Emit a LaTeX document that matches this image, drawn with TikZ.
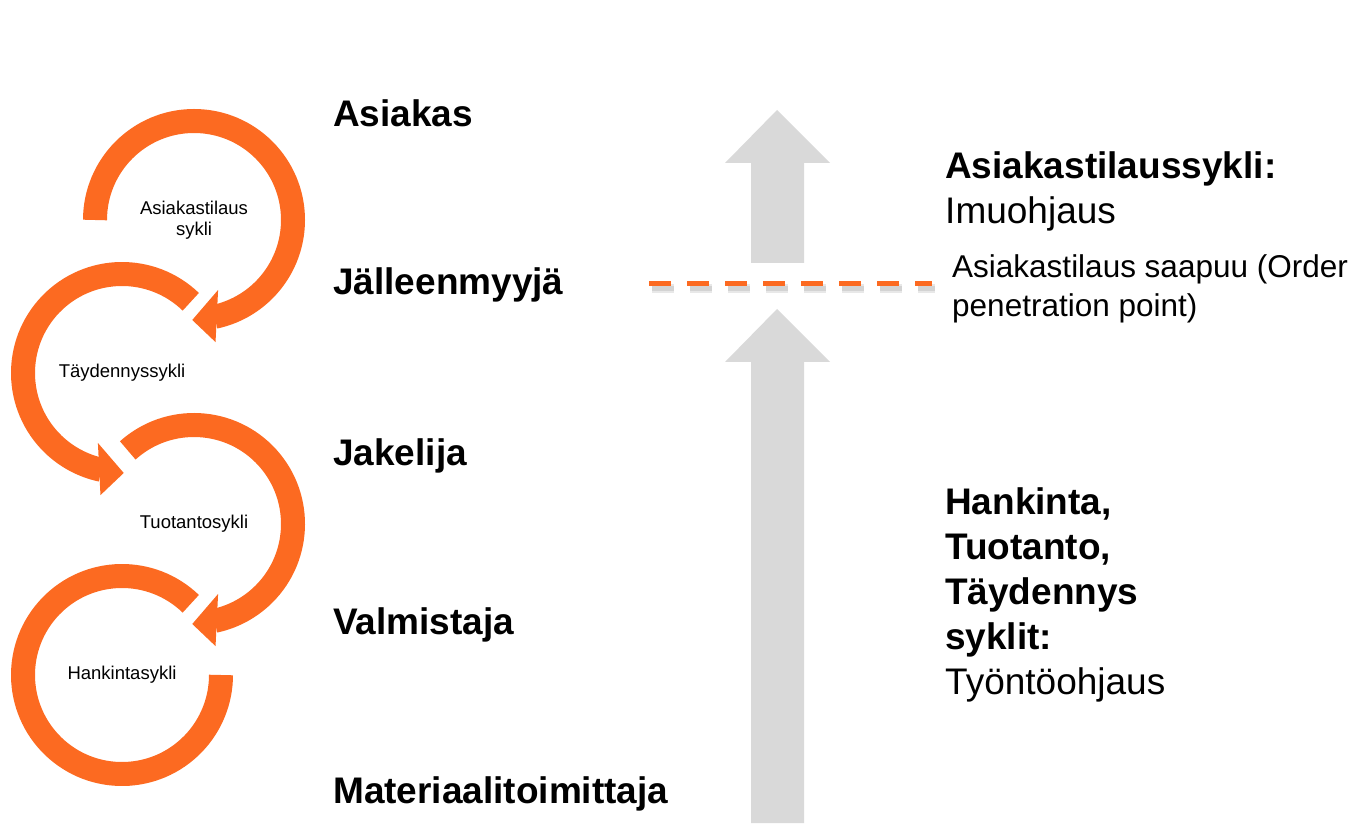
\documentclass[tikz,border=0pt]{standalone}
\usepackage{fontspec}
\setmainfont{Liberation Sans}
\definecolor{cycleorange}{RGB}{252,106,33}
\definecolor{flowgray}{RGB}{217,217,217}
\tikzset{
  ring/.style={draw=cycleorange,line width=24pt},
  ringhead/.style={fill=cycleorange},
  ringlabel/.style={align=center,inner sep=0pt,font=\fontsize{18.5}{21}\selectfont},
  flow/.style={fill=flowgray},
  stage/.style={anchor=base west,inner sep=0pt,font=\bfseries\fontsize{37}{44}\selectfont},
  note/.style={anchor=north west,align=left,inner sep=0pt},
  opp/.style={draw=cycleorange,line width=5pt,dash pattern=on 22pt off 16pt},
  oppshadow/.style={draw=black,line width=#1,dash pattern=on 22pt off 16pt,opacity=0.09}
}

\begin{document}
\begin{tikzpicture}[x=1pt,y=1pt]
\useasboundingbox (0,0) rectangle (1356,823);
% centres of the four cycles
\coordinate (c1) at (194,603);
\coordinate (c2) at (122,450);
\coordinate (c3) at (194,299);
\coordinate (c4) at (122,148);

% cycle arrows
\begin{scope}[shift={(c1)}]
  \draw[ring] (180:99) arc[start angle=180,end angle=-78,radius=99];
  \fill[ringhead] (-71:74) -- (-80:124) -- (-91:100) -- cycle;
\end{scope}
\begin{scope}[shift={(c2)}]
  \draw[ring] (46:99) arc[start angle=46,end angle=258,radius=99];
  \fill[ringhead] (251:74) -- (260:124) -- (271:100) -- cycle;
\end{scope}
\begin{scope}[shift={(c3)}]
  \draw[ring] (132:99) arc[start angle=132,end angle=-78,radius=99];
  \fill[ringhead] (-71:74) -- (-80:124) -- (-91:100) -- cycle;
\end{scope}
\begin{scope}[shift={(c4)}]
  \draw[ring] (46:99) arc[start angle=46,end angle=360,radius=99];
\end{scope}

\node[ringlabel] (asc) at (c1) {Asiakastilaus\\sykli};
\node[ringlabel] (tay) at (c2) {Täydennyssykli};
\node[ringlabel] (tuo) at (c3) {Tuotantosykli};
\node[ringlabel] (han) at (c4) {Hankintasykli};

% supply chain stages
\node[stage] (asiakas) at (333,696) {Asiakas};
\node[stage] (jalleen) at (333,528) {Jälleenmyyjä};
\node[stage] (jakelija) at (333,358) {Jakelija};
\node[stage] (valmistaja) at (333,189) {Valmistaja};
\node[stage] (toimittaja) at (333,20) {Materiaalitoimittaja};

% flow arrows
\foreach \tail/\base/\tip in {560/660/713, 0/461/514}
  \fill[flow] (751,\tail) -- (751,\base) -- (725,\base) -- (777,\tip)
    -- (830,\base) -- (804,\base) -- (804,\tail) -- cycle;

% order penetration point
\coordinate (opp-l) at (649,539);
\coordinate (opp-r) at (932,539);
\draw[oppshadow=9pt] ([shift={(3,-5)}]opp-l) -- ([shift={(3,-5)}]opp-r);
\draw[oppshadow=5pt] ([shift={(3,-5)}]opp-l) -- ([shift={(3,-5)}]opp-r);
\draw[opp] (opp-l) -- (opp-r);

\node[note,font=\fontsize{37}{45}\selectfont] (pull) at (945,672)
  {\textbf{Asiakastilaussykli:}\\Imuohjaus};
\node[note,font=\fontsize{31.5}{39}\selectfont] (oppnote) at (952,569)
  {Asiakastilaus saapuu (Order\\penetration point)};
\node[note,font=\fontsize{37}{45}\selectfont] (push) at (945,336)
  {\textbf{Hankinta,}\\\textbf{Tuotanto,}\\\textbf{Täydennys}\\\textbf{syklit:}\\Työntöohjaus};
\end{tikzpicture}
\end{document}
